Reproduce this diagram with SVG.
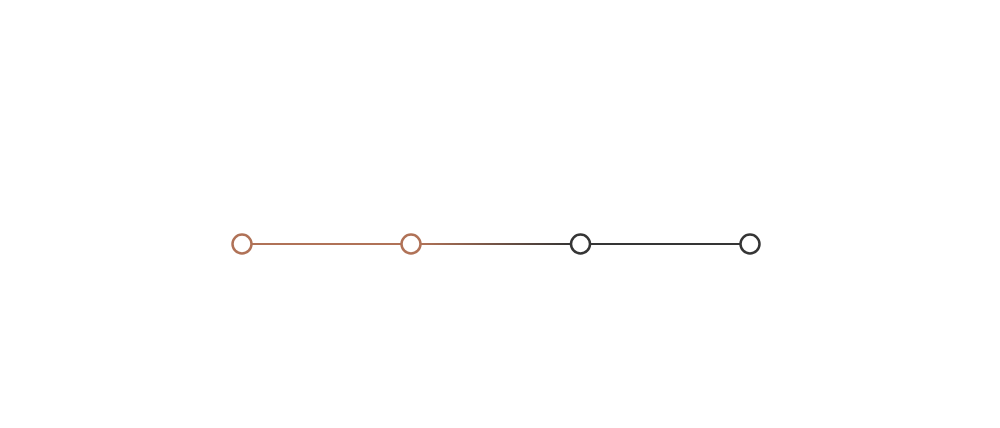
<svg xmlns="http://www.w3.org/2000/svg" width="1000" height="428" viewBox="0 0 1000 428">
<style>
.node{fill:#ffffff;stroke-width:2.5}
.done{stroke:#b07257}
.todo{stroke:#353535}
.link{stroke-width:2;fill:none}
</style>
<defs>
<linearGradient id="g1" gradientUnits="userSpaceOnUse" x1="421" y1="0" x2="571" y2="0">
<stop offset="0" stop-color="#b07257"/>
<stop offset="1" stop-color="#353535"/>
</linearGradient>
</defs>
<rect width="1000" height="428" fill="#ffffff"/>
<g id="connectors">
<line class="link" x1="252" y1="244" x2="401" y2="244" stroke="#b07257"/>
<line class="link" x1="421" y1="244" x2="570" y2="244" stroke="url(#g1)"/>
<line class="link" x1="590" y1="244" x2="740" y2="244" stroke="#353535"/>
</g>
<g id="node1"><circle class="node done" cx="242" cy="244" r="9.5"/></g>
<g id="node2"><circle class="node done" cx="411" cy="244" r="9.5"/></g>
<g id="node3"><circle class="node todo" cx="580.5" cy="244" r="9.5"/></g>
<g id="node4"><circle class="node todo" cx="750" cy="244" r="9.5"/></g>
</svg>
